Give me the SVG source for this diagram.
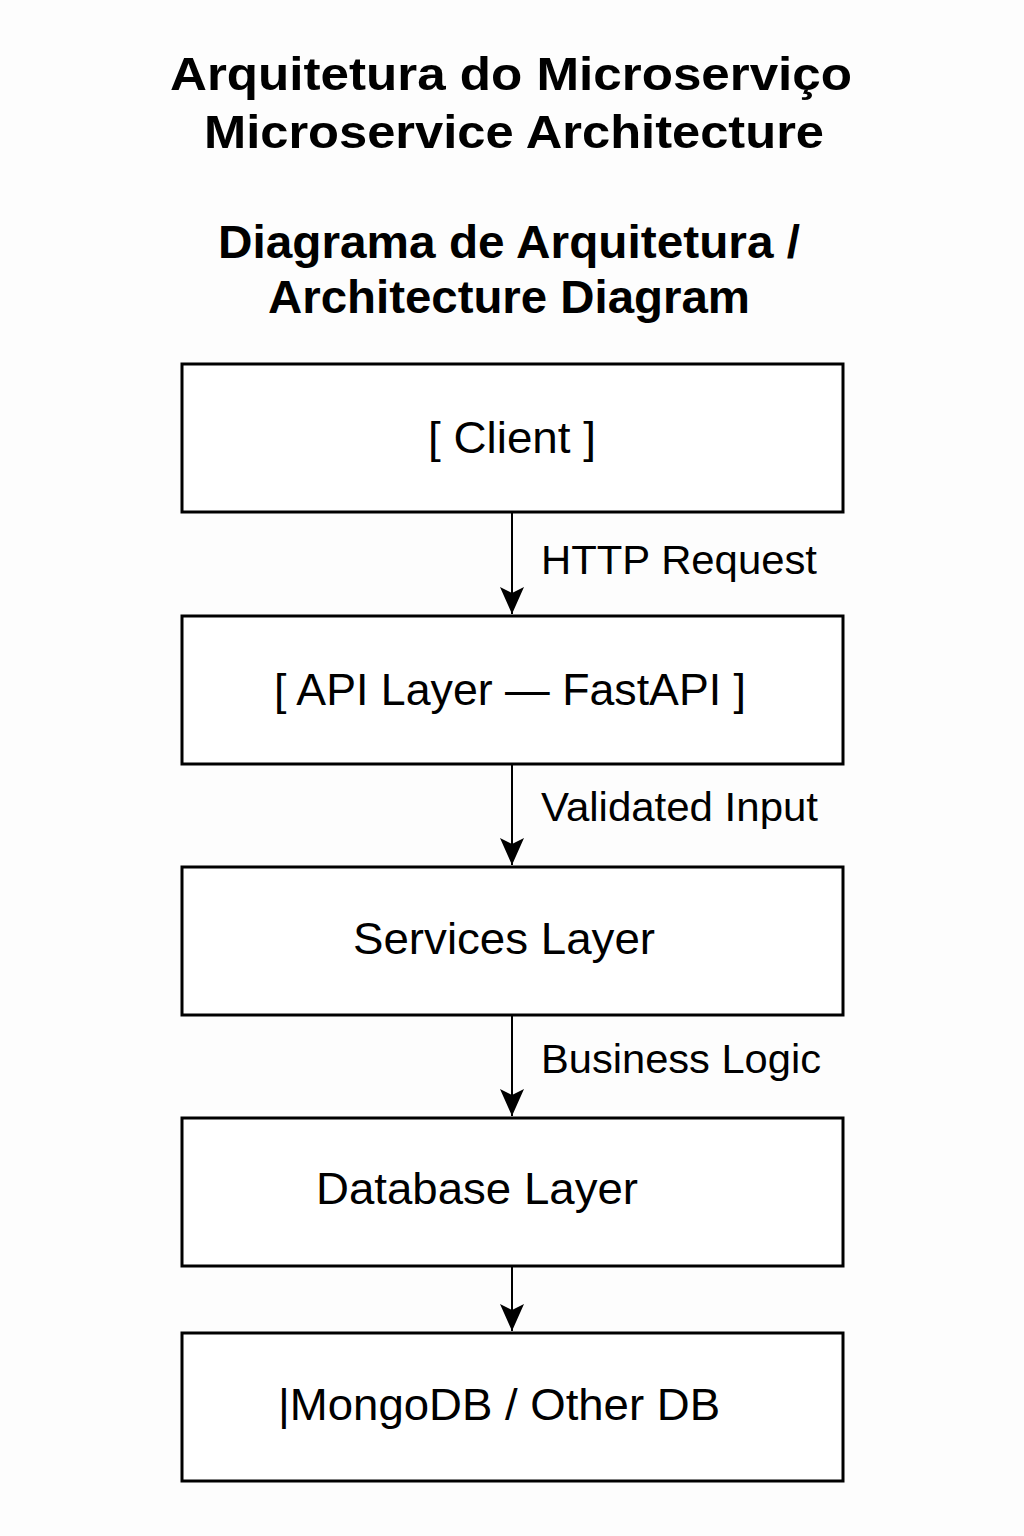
<svg xmlns="http://www.w3.org/2000/svg" width="1024" height="1536" viewBox="0 0 1024 1536">
<style>
.title{font-family:"Liberation Sans",Arial,sans-serif;font-weight:bold;font-size:47px;fill:#000;text-anchor:middle}
.box{fill:#fff;stroke:#000;stroke-width:3}
.btext{font-family:"Liberation Sans",Arial,sans-serif;font-size:44px;fill:#000;text-anchor:middle}
.lbl{font-family:"Liberation Sans",Arial,sans-serif;font-size:41px;fill:#000}
.conn{stroke:#000;stroke-width:2;fill:none}
</style>
<defs>
<marker id="ah" markerWidth="28" markerHeight="24" refX="27" refY="12" orient="auto" markerUnits="userSpaceOnUse" viewBox="0 0 28 24">
<path d="M0,0 L6,12 L0,24 L27,12 Z" fill="#000"/>
</marker>
</defs>
<rect width="1024" height="1536" fill="#fdfdfd"/>
<g id="title">
<text class="title" x="511" y="90" textLength="682" lengthAdjust="spacingAndGlyphs">Arquitetura do Microserviço</text>
<text class="title" x="514" y="148" textLength="620" lengthAdjust="spacingAndGlyphs">Microservice Architecture</text>
<text class="title" x="509" y="258" textLength="582" lengthAdjust="spacingAndGlyphs">Diagrama de Arquitetura /</text>
<text class="title" x="509" y="313" textLength="482" lengthAdjust="spacingAndGlyphs">Architecture Diagram</text>
</g>
<g id="connectors">
<line class="conn" x1="512" y1="513" x2="512" y2="614" marker-end="url(#ah)"/>
<line class="conn" x1="512" y1="765" x2="512" y2="865" marker-end="url(#ah)"/>
<line class="conn" x1="512" y1="1016" x2="512" y2="1116" marker-end="url(#ah)"/>
<line class="conn" x1="512" y1="1267" x2="512" y2="1331" marker-end="url(#ah)"/>
<text class="lbl" x="541" y="574" textLength="276" lengthAdjust="spacingAndGlyphs">HTTP Request</text>
<text class="lbl" x="541" y="821" textLength="277" lengthAdjust="spacingAndGlyphs">Validated Input</text>
<text class="lbl" x="541" y="1073" textLength="280" lengthAdjust="spacingAndGlyphs">Business Logic</text>
</g>
<g id="client">
<rect class="box" x="182" y="364" width="661" height="148"/>
<text class="btext" x="512" y="453" textLength="168" lengthAdjust="spacingAndGlyphs">[ Client ]</text>
</g>
<g id="api">
<rect class="box" x="182" y="616" width="661" height="148"/>
<text class="btext" x="510" y="705" textLength="472" lengthAdjust="spacingAndGlyphs">[ API Layer — FastAPI ]</text>
</g>
<g id="services">
<rect class="box" x="182" y="867" width="661" height="148"/>
<text class="btext" x="504" y="954" textLength="302" lengthAdjust="spacingAndGlyphs">Services Layer</text>
</g>
<g id="database">
<rect class="box" x="182" y="1118" width="661" height="148"/>
<text class="btext" x="477" y="1204" textLength="322" lengthAdjust="spacingAndGlyphs">Database Layer</text>
</g>
<g id="mongodb">
<rect class="box" x="182" y="1333" width="661" height="148"/>
<text class="btext" x="499" y="1420" textLength="442" lengthAdjust="spacingAndGlyphs">|MongoDB / Other DB</text>
</g>
</svg>
